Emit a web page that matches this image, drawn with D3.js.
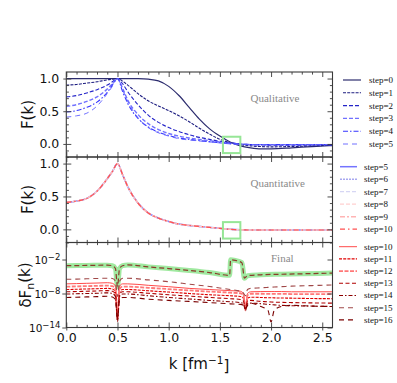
<!DOCTYPE html>
<html><head><meta charset="utf-8">
<script src="https://cdn.jsdelivr.net/npm/d3@7"></script>
<style>body{margin:0;background:#fff}svg{display:block}</style>
</head><body><svg id="c" width="397" height="383"></svg>
<script>
// ---------------- DATA ----------------
const kTop = [0,0.1,0.2,0.3,0.4,0.45,0.5,0.55,0.6,0.7,0.8,0.9,1.0,1.1,1.2,1.3,1.4,1.5,1.6,1.7,1.8,1.9,2.0,2.2,2.4,2.6];
const step0 = [1,1,1,1,1,1,1,1,1,0.998,0.99,0.965,0.88,0.74,0.56,0.38,0.23,0.12,0.03,-0.03,-0.06,-0.075,-0.075,-0.06,-0.04,-0.025];
const step1 = [0.9,0.91,0.93,0.95,0.98,0.99,1,0.96,0.9,0.77,0.66,0.58,0.51,0.43,0.34,0.24,0.15,0.07,0.02,-0.01,-0.03,-0.04,-0.045,-0.04,-0.03,-0.02];
const step2 = [0.72,0.74,0.78,0.83,0.9,0.95,1,0.92,0.8,0.6,0.44,0.33,0.25,0.19,0.14,0.1,0.07,0.04,0.02,0.0,-0.01,-0.015,-0.02,-0.02,-0.015,-0.01];
const step3 = [0.575,0.6,0.65,0.72,0.84,0.92,1,0.85,0.67,0.45,0.31,0.22,0.16,0.12,0.09,0.07,0.05,0.03,0.01,0,-0.01,-0.01,-0.01,-0.01,-0.01,-0.01];
const step4 = [0.49,0.51,0.56,0.64,0.79,0.9,1,0.8,0.62,0.39,0.26,0.18,0.13,0.09,0.07,0.05,0.035,0.02,0.005,-0.005,-0.01,-0.01,-0.01,-0.01,-0.01,-0.01];
const fConverged = [0.41,0.43,0.47,0.58,0.77,0.88,1,0.83,0.65,0.40,0.25,0.17,0.12,0.08,0.06,0.045,0.03,0.015,0.0,-0.008,-0.01,-0.01,-0.01,-0.01,-0.01,-0.01];

const kBot = [0,0.1,0.2,0.3,0.4,0.45,0.48,0.5,0.52,0.55,0.6,0.8,1.0,1.2,1.4,1.6,1.7,1.73,1.75,1.77,1.8,1.9,1.97,2.0,2.03,2.1,2.2,2.4,2.6];
const d10 = [5e-7,5.6e-7,6.3e-7,7e-7,8e-7,6.3e-7,2e-7,3e-12,2e-7,5e-7,5e-7,2.8e-7,1.6e-7,8e-8,5e-8,3.2e-8,2.5e-8,1e-8,1.6e-11,1e-8,2e-8,2.2e-8,2.2e-8,2.2e-8,2.2e-8,2.2e-8,2e-8,2e-8,2e-8];
const d11 = [5e-8,5.6e-8,6.3e-8,7e-8,8e-8,6.3e-8,2e-8,5e-13,2e-8,5e-8,5e-8,3e-8,1.8e-8,1e-8,6e-9,4e-9,3e-9,1.5e-9,3e-11,1.5e-9,2.2e-9,2e-9,1.8e-9,1.8e-9,1.7e-9,1.6e-9,1.5e-9,1.3e-9,1.2e-9];
const d12 = [1.6e-7,1.8e-7,2e-7,2.2e-7,2.5e-7,2e-7,6e-8,1e-12,6e-8,1.6e-7,1.6e-7,1e-7,6e-8,3.5e-8,2.2e-8,1.4e-8,1.1e-8,5e-9,1e-11,5e-9,9e-9,9e-9,8.5e-9,8.5e-9,8.5e-9,8.5e-9,8e-9,8e-9,7.5e-9];
const d13 = [2e-8,2.2e-8,2.5e-8,2.8e-8,3.2e-8,2.5e-8,8e-9,2e-13,8e-9,2e-8,2e-8,1.1e-8,6e-9,3.5e-9,2e-9,1.2e-9,9e-10,5e-10,2e-11,5e-10,6e-10,4e-10,3.5e-10,3.2e-10,3e-10,2.8e-10,2.5e-10,2.2e-10,2e-10];
const d14 = [8e-9,9e-9,1e-8,1.1e-8,1.3e-8,1e-8,3e-9,1e-13,3e-9,8e-9,8e-9,4e-9,2e-9,1.1e-9,6e-10,3.5e-10,2.5e-10,1.5e-10,1e-11,1.5e-10,2e-10,1.6e-10,1.2e-10,1.1e-10,1e-10,8e-11,7e-11,6e-11,5e-11];
const d15 = [3.2e-6,3.5e-6,4e-6,4.5e-6,5e-6,4.5e-6,1.5e-6,3e-9,1.5e-6,5e-6,5e-6,2.5e-6,1.2e-6,4.5e-7,1.7e-7,5e-8,2.5e-8,1.2e-8,4e-9,5e-8,8e-8,1e-7,1.2e-7,1.3e-7,1.4e-7,1.6e-7,2e-7,2.5e-7,3.2e-7];
const d16 = [2e-9,2.2e-9,2.5e-9,2.8e-9,3.2e-9,2.5e-9,8e-10,5e-13,8e-10,2e-9,2e-9,1e-9,6e-10,4e-10,2.5e-10,1.5e-10,1.2e-10,8e-11,2e-11,8e-11,2e-10,5e-11,1e-11,1e-13,1e-11,5e-11,8e-11,6e-11,5e-11];
const kFinal = [0,0.2,0.4,0.45,0.48,0.5,0.52,0.55,0.6,0.8,1.0,1.2,1.4,1.595,1.605,1.65,1.715,1.74,1.77,1.9,2.1,2.3,2.6];
const dFinal = [8e-4,9e-4,1e-3,8e-4,2.5e-4,1.6e-7,2.5e-4,8e-4,1.1e-3,5e-4,2.5e-4,1.2e-4,5e-5,1.6e-5,9e-3,7e-3,2.8e-3,5e-6,1.4e-5,2e-5,2.5e-5,3e-5,4e-5];

const boxK = [1.53,1.70];
const boxF = [-0.14,0.11];
const xTicks = [0,0.5,1.0,1.5,2.0,2.5];
const xTickLabels = ["0.0","0.5","1.0","1.5","2.0","2.5"];
const fTicks = [0,0.5,1.0];
const fTickLabels = ["0.0","0.5","1.0"];
const logTicks = [1e-14,1e-8,1e-2];
const logTickExp = ["−14","−8","−2"];

// series styles
const topSeries = [
  {name:"step=0", v:step0, c:"#2c2c6e", w:1.2, d:null},
  {name:"step=1", v:step1, c:"#1c1c80", w:1.1, d:"3,1.2"},
  {name:"step=2", v:step2, c:"#2424c8", w:1.1, d:"4,2"},
  {name:"step=3", v:step3, c:"#7070ff", w:1.4, d:"4,2"},
  {name:"step=4", v:step4, c:"#3434ff", w:1.1, d:"5,2,1.5,2"},
  {name:"step=5", v:fConverged, c:"#6060ff", w:0.9, d:"5,4"}
];
const midSeries = [
  {name:"step=5", v:fConverged, c:"#7474ff", w:1.5, d:null},
  {name:"step=6", v:fConverged, c:"#a8a8f0", w:1.5, d:"2,1"},
  {name:"step=7", v:fConverged, c:"#d6d6f4", w:1.2, d:"4,2"},
  {name:"step=8", v:fConverged, c:"#ffd0d0", w:1.2, d:"4,2"},
  {name:"step=9", v:fConverged, c:"#ffb4b4", w:1.5, d:"5,2,2,2"},
  {name:"step=10", v:fConverged, c:"#ff5050", w:1.2, d:"5,3,1.5,3"}
];
const botSeries = [
  {name:"step=10", v:d10, c:"#ff4a4a", w:1.0, d:null},
  {name:"step=11", v:d11, c:"#e00000", w:1.1, d:"3,1.2"},
  {name:"step=12", v:d12, c:"#ff7878", w:1.8, d:"4,1.5"},
  {name:"step=13", v:d13, c:"#b00000", w:1.1, d:"4,2.5"},
  {name:"step=14", v:d14, c:"#8c0000", w:1.1, d:"4,2,1.5,2"},
  {name:"step=15", v:d15, c:"#a04848", w:1.1, d:"5,4"},
  {name:"step=16", v:d16, c:"#7a0000", w:1.1, d:"5,4"}
];

// ---------------- LAYOUT ----------------
const svg = d3.select("#c");
const X0 = 66.3, X1 = 332.5;
const panels = [{t:72, b:157},{t:157, b:242.5},{t:242.5, b:327.5}];
const x = d3.scaleLinear().domain([0,2.6]).range([X0,X1]);
const yTop = d3.scaleLinear().domain([-0.2,1.1]).range([panels[0].b, panels[0].t]);
const yMid = d3.scaleLinear().domain([-0.2,1.1]).range([panels[1].b, panels[1].t]);
const yBot = d3.scaleLog().domain([1e-14,1e1]).range([panels[2].b, panels[2].t]);
const axisCol = "#3a3a3a";

const defs = svg.append("defs");
panels.forEach((p,i)=>{
  defs.append("clipPath").attr("id","cp"+i).append("rect")
    .attr("x",X0).attr("y",p.t).attr("width",X1-X0).attr("height",p.b-p.t);
});

function drawLines(g, ks, series, y){
  series.forEach(s=>{
    const line = d3.line().x((d,i)=>x(ks[i])).y(d=>y(d)).curve(d3.curveMonotoneX);
    g.append("path").datum(s.v).attr("d",line).attr("fill","none")
      .attr("stroke",s.c).attr("stroke-width",s.w)
      .attr("stroke-dasharray",s.d);
  });
}
function drawBox(g, y){
  g.append("rect").attr("x",x(boxK[0])).attr("y",y(boxF[1]))
    .attr("width",x(boxK[1])-x(boxK[0])).attr("height",y(boxF[0])-y(boxF[1]))
    .attr("fill","none").attr("stroke","#96e696").attr("stroke-width",2);
}

// top panel
const g0 = svg.append("g").attr("clip-path","url(#cp0)");
drawLines(g0, kTop, topSeries, yTop);
drawBox(svg, yTop);
// middle panel
const g1 = svg.append("g").attr("clip-path","url(#cp1)");
drawLines(g1, kTop, midSeries, yMid);
drawBox(svg, yMid);
// bottom panel
const g2 = svg.append("g").attr("clip-path","url(#cp2)");
const lineF = d3.line().x((d,i)=>x(kFinal[i])).y(d=>yBot(d)).curve(d3.curveMonotoneX);
g2.append("path").datum(dFinal).attr("d",lineF).attr("fill","none")
  .attr("stroke","#8fe58f").attr("stroke-width",5).attr("stroke-opacity",0.85).attr("stroke-linejoin","round");
drawLines(g2, kBot, botSeries, yBot);
g2.append("path").datum(dFinal).attr("d",lineF).attr("fill","none")
  .attr("stroke","#8a3a2a").attr("stroke-width",1.2).attr("stroke-dasharray","5,3");

// ---------------- AXES ----------------
const minorX = d3.range(0,26).map(i=>i/10).filter(v=>Math.abs(v*2-Math.round(v*2))>1e-6);
const minorF = d3.range(-2,11).map(i=>i/10).filter(v=>Math.abs(v*2-Math.round(v*2))>1e-6);

function styleAxis(sel){
  sel.select(".domain").remove();
  sel.selectAll(".tick line").attr("stroke",axisCol).attr("stroke-width",0.9);
  sel.selectAll("text").attr("fill","#111").attr("font-family","DejaVu Sans, sans-serif").attr("font-size","12.5px");
}
panels.forEach((p,i)=>{
  [[p.t, d3.axisTop],[p.b, d3.axisBottom]].forEach(([yy, A])=>{
    const ga = svg.append("g").attr("transform",`translate(0,${yy})`)
      .call(A(x).tickValues(xTicks).tickSizeInner(-5).tickSizeOuter(0).tickPadding(6)
        .tickFormat((d,j)=> (i===2 && A===d3.axisBottom) ? xTickLabels[j] : ""));
    styleAxis(ga);
    const gm = svg.append("g").attr("transform",`translate(0,${yy})`)
      .call(A(x).tickValues(minorX).tickSizeInner(-2.6).tickSizeOuter(0).tickFormat(""));
    styleAxis(gm);
    if(A===d3.axisBottom && i===2){
      const go = svg.append("g").attr("transform",`translate(0,${yy})`)
        .call(A(x).tickValues(xTicks).tickSizeInner(3).tickSizeOuter(0).tickFormat(""));
      styleAxis(go);
    }
  });
  if(i<2){
    const y = i===0 ? yTop : yMid;
    const gl = svg.append("g").attr("transform",`translate(${X0},0)`)
      .call(d3.axisLeft(y).tickValues(fTicks).tickSizeInner(-5).tickSizeOuter(0).tickPadding(7)
        .tickFormat((d,j)=>fTickLabels[j]));
    styleAxis(gl);
    const glo = svg.append("g").attr("transform",`translate(${X0},0)`)
      .call(d3.axisLeft(y).tickValues(fTicks).tickSizeInner(3).tickSizeOuter(0).tickFormat(""));
    styleAxis(glo);
    const glm = svg.append("g").attr("transform",`translate(${X0},0)`)
      .call(d3.axisLeft(y).tickValues(minorF).tickSizeInner(-2.6).tickSizeOuter(0).tickFormat(""));
    styleAxis(glm);
    const gr = svg.append("g").attr("transform",`translate(${X1},0)`)
      .call(d3.axisRight(y).tickValues(fTicks).tickSizeInner(-5).tickSizeOuter(0).tickFormat(""));
    styleAxis(gr);
    const grm = svg.append("g").attr("transform",`translate(${X1},0)`)
      .call(d3.axisRight(y).tickValues(minorF).tickSizeInner(-2.6).tickSizeOuter(0).tickFormat(""));
    styleAxis(grm);
  } else {
    const gl = svg.append("g").attr("transform",`translate(${X0},0)`)
      .call(d3.axisLeft(yBot).tickValues(logTicks).tickSizeInner(4).tickSizeOuter(0).tickFormat(""));
    styleAxis(gl);
    gl.selectAll(".tick").append("text").attr("x",-6).attr("dy","0.4em")
      .attr("text-anchor","end").attr("fill","#111")
      .attr("font-family","DejaVu Sans, sans-serif").attr("font-size","10.5px")
      .each(function(d,j){
        const t = d3.select(this);
        t.append("tspan").text("10");
        t.append("tspan").attr("dy","-0.55em").attr("font-size","8.5px").text(logTickExp[j]);
      });
    const gr = svg.append("g").attr("transform",`translate(${X1},0)`)
      .call(d3.axisRight(yBot).tickValues(logTicks).tickSizeInner(-5).tickSizeOuter(0).tickFormat(""));
    styleAxis(gr);
  }
  svg.append("rect").attr("x",X0).attr("y",p.t).attr("width",X1-X0).attr("height",p.b-p.t)
    .attr("fill","none").attr("stroke",axisCol).attr("stroke-width",1.1);
});

// ---------------- LABELS ----------------
const lab = (cy, bx) => svg.append("text").attr("transform",`translate(${bx},${cy}) rotate(-90)`)
    .attr("text-anchor","middle").attr("font-family","DejaVu Sans, sans-serif")
    .attr("font-size","15px").attr("fill","#111");
lab(114.5, 33).text("F(k)");
lab(199.5, 33).text("F(k)");
const dl = lab(285, 31);
dl.append("tspan").text("δF");
dl.append("tspan").attr("dy","0.3em").attr("font-size","11px").text("n");
dl.append("tspan").attr("dy","-0.3em").text("(k)");

const xl = svg.append("text").attr("x",199).attr("y",369).attr("text-anchor","middle")
  .attr("font-family","DejaVu Sans, sans-serif").attr("font-size","15px").attr("fill","#111");
xl.append("tspan").text("k [fm");
xl.append("tspan").attr("dy","-0.45em").attr("font-size","10.5px").text("−1");
xl.append("tspan").attr("dy","0.45em").text("]");

const note = (txt, xx, yy) => svg.append("text").attr("x",xx).attr("y",yy)
  .attr("font-family","Liberation Serif, serif").attr("font-size","11px").attr("fill","#8a8a8a").text(txt);
note("Qualitative", 250.5, 102);
note("Quantitative", 250.5, 187);
note("Final", 271, 262);

// ---------------- LEGENDS ----------------
function legend(series, y0, dy, lx0, lx1, tx){
  series.forEach((s,i)=>{
    const yy = y0 + i*dy;
    svg.append("line").attr("x1",lx0).attr("x2",lx1).attr("y1",yy).attr("y2",yy)
      .attr("stroke",s.c).attr("stroke-width",s.w).attr("stroke-dasharray",s.d);
    svg.append("text").attr("x",tx).attr("y",yy).attr("dy","0.33em")
      .attr("font-family","Liberation Serif, serif").attr("font-size","9px").attr("fill","#111").text(s.name);
  });
}
legend(topSeries, 80, 12.8, 343, 361, 369);
legend(midSeries, 166.7, 12.5, 340, 357, 364);
legend(botSeries, 246.7, 12.2, 339, 357, 364);
</script></body></html>
